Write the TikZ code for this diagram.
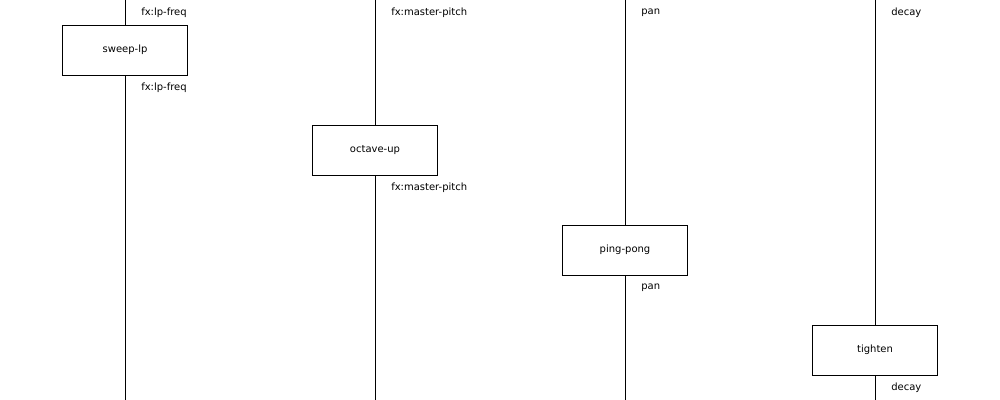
\documentclass[tikz,border=0pt]{standalone}
\usepackage{fontspec}
\setmainfont{DejaVu Sans}
\usepackage{tikz}
\usetikzlibrary{positioning}

\begin{document}
\begin{tikzpicture}[x=0.75pt,y=0.75pt,yscale=-1,xscale=1,
  fxbox/.style={draw,fill=white,minimum width=93.75pt,minimum height=37.5pt,inner sep=0pt,font=\fontsize{7.5pt}{9pt}\selectfont},
  fxlabel/.style={anchor=west,inner sep=0pt,font=\fontsize{7.5pt}{9pt}\selectfont}]
\useasboundingbox (0,0) rectangle (1000,400);

%Boxes
\node [fxbox] (sweep) at (125,50) {sweep-lp};
\node [fxbox] (octave) at (375,150) {octave-up};
\node [fxbox] (ping) at (625,250) {ping-pong};
\node [fxbox] (tighten) at (875,350) {tighten};

%Line ends
\coordinate (sweeptop) at (125,0);
\coordinate (sweepbot) at (125,400);
\coordinate (octavetop) at (375,0);
\coordinate (octavebot) at (375,400);
\coordinate (pingtop) at (625,0);
\coordinate (pingbot) at (625,400);
\coordinate (tightentop) at (875,0);
\coordinate (tightenbot) at (875,400);

%Straight Lines
\draw (sweeptop) -- (sweep.north) (sweep.south) -- (sweepbot);
\draw (octavetop) -- (octave.north) (octave.south) -- (octavebot);
\draw (pingtop) -- (ping.north) (ping.south) -- (pingbot);
\draw (tightentop) -- (tighten.north) (tighten.south) -- (tightenbot);

% Text Node
\node [fxlabel] (lpin) at (141,13) {fx:lp-freq};
\node [fxlabel] (lpout) at (141,88) {fx:lp-freq};
\node [fxlabel] (mpin) at (391,13) {fx:master-pitch};
\node [fxlabel] (mpout) at (391,188) {fx:master-pitch};
\node [fxlabel] (panin) at (641,13) {pan};
\node [fxlabel] (panout) at (641,288) {pan};
\node [fxlabel] (decin) at (891,13) {decay};
\node [fxlabel] (decout) at (891,388) {decay};

\end{tikzpicture}
\end{document}
